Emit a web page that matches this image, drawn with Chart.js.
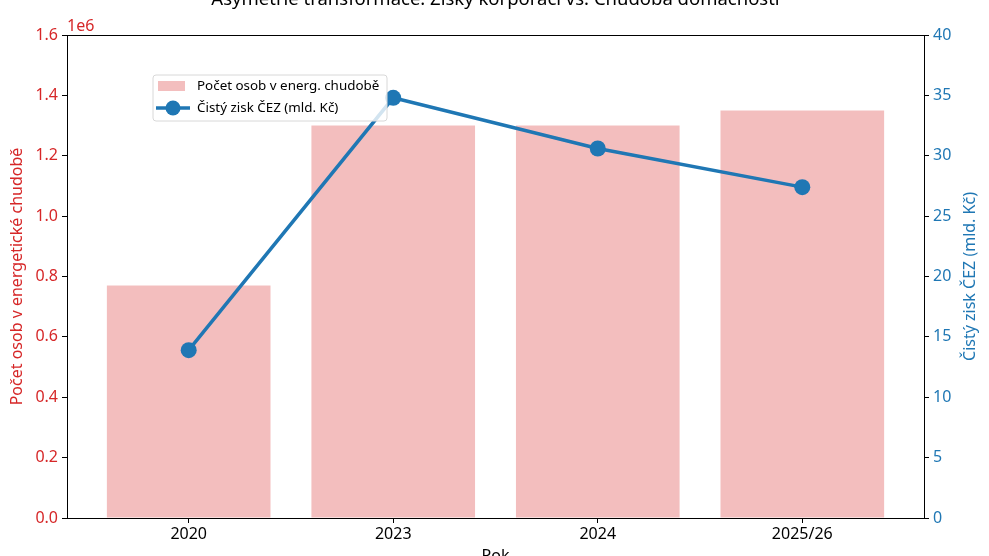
<!DOCTYPE html>
<html>
<head>
<meta charset="utf-8">
<script src="https://cdn.jsdelivr.net/npm/chart.js@4"></script>
<style>
    html, body { margin: 0; padding: 0; background: #fff; overflow: hidden; }
    #wrap { position: absolute; left: 0; top: -14px; width: 989px; height: 590px; }
</style>
</head>
<body>
<div id="wrap"><canvas id="chart"></canvas></div>
<script>
// Data
const years = ['2020', '2023', '2024', '2025/26'];
const povertyPeople = [770000, 1300000, 1300000, 1350000];
const cezProfit = [13.9, 34.8, 30.6, 27.4];
const leftTicks = [0, 0.2, 0.4, 0.6, 0.8, 1.0, 1.2, 1.4, 1.6];
const rightTicks = [0, 5, 10, 15, 20, 25, 30, 35, 40];

const FONT = '"Noto Sans", "DejaVu Sans", sans-serif';
const RED = '#d62728';
const BLUE = '#1f77b4';

// Frame, title, offset label, right axis title and legend drawn over the chart
const decorPlugin = {
    id: 'decor',
    afterDraw(chart) {
        const ctx = chart.ctx;
        const a = chart.chartArea;
        ctx.save();
        ctx.strokeStyle = '#000';
        ctx.lineWidth = 1;
        ctx.strokeRect(a.left + 0.5, a.top + 0.5, a.right - a.left, a.bottom - a.top);

        ctx.fillStyle = '#000';
        ctx.font = '18.5px ' + FONT;
        ctx.textAlign = 'center';
        ctx.textBaseline = 'middle';
        ctx.fillText('Asymetrie transformace: Zisky korporací vs. Chudoba domácností', (a.left + a.right) / 2, a.top - 35);

        ctx.fillStyle = RED;
        ctx.font = '16px ' + FONT;
        ctx.textAlign = 'left';
        ctx.textBaseline = 'bottom';
        ctx.fillText('1e6', a.left, a.top - 1);

        // right axis title, reading bottom to top
        ctx.save();
        ctx.translate(chart.width - 19, (a.top + a.bottom) / 2);
        ctx.rotate(-Math.PI / 2);
        ctx.fillStyle = BLUE;
        ctx.font = '16px ' + FONT;
        ctx.textAlign = 'center';
        ctx.textBaseline = 'middle';
        ctx.fillText('Čistý zisk ČEZ (mld. Kč)', 0, 0);
        ctx.restore();

        // legend
        const lx = a.left + 86, ly = a.top + 40, lw = 234, lh = 46;
        ctx.beginPath();
        ctx.roundRect(lx, ly, lw, lh, 3);
        ctx.fillStyle = 'rgba(255,255,255,0.8)';
        ctx.fill();
        ctx.strokeStyle = '#d8d8d8';
        ctx.lineWidth = 1;
        ctx.stroke();

        const ds = chart.data.datasets;
        ctx.fillStyle = ds[0].backgroundColor;
        ctx.fillRect(lx + 5, ly + 6, 27, 10);
        ctx.strokeStyle = ds[1].borderColor;
        ctx.lineWidth = 3.5;
        ctx.beginPath();
        ctx.moveTo(lx + 3, ly + 33);
        ctx.lineTo(lx + 37, ly + 33);
        ctx.stroke();
        ctx.fillStyle = ds[1].borderColor;
        ctx.beginPath();
        ctx.arc(lx + 20, ly + 33, 7.5, 0, Math.PI * 2);
        ctx.fill();

        ctx.fillStyle = '#000';
        ctx.font = '13.4px ' + FONT;
        ctx.textAlign = 'left';
        ctx.textBaseline = 'middle';
        ctx.fillText(ds[0].label, lx + 44, ly + 11);
        ctx.fillText(ds[1].label, lx + 44, ly + 33);
        ctx.restore();
    }
};

const ctx = document.getElementById('chart').getContext('2d');
new Chart(ctx, {
    data: {
        datasets: [{
            type: 'bar',
            label: 'Počet osob v energ. chudobě',
            data: povertyPeople.map((v, i) => ({ x: i, y: v })),
            backgroundColor: 'rgba(214, 39, 40, 0.3)',
            barPercentage: 0.8,
            categoryPercentage: 1.0,
            yAxisID: 'y',
            order: 2
        }, {
            type: 'line',
            label: 'Čistý zisk ČEZ (mld. Kč)',
            data: cezProfit.map((v, i) => ({ x: i, y: v })),
            borderColor: BLUE,
            backgroundColor: BLUE,
            borderWidth: 3.5,
            pointRadius: 8,
            pointHoverRadius: 8,
            pointBorderWidth: 0,
            tension: 0,
            yAxisID: 'y1',
            order: 1
        }]
    },
    options: {
        responsive: true,
        maintainAspectRatio: false,
        animation: false,
        layout: { padding: { top: 49, left: 0, right: 0, bottom: 0 } },
        plugins: {
            legend: { display: false },
            title: { display: false },
            tooltip: { enabled: false }
        },
        scales: {
            x: {
                type: 'linear',
                offset: false,
                min: -0.595,
                max: 3.595,
                afterBuildTicks: (scale) => {
                    scale.ticks = years.map((_, i) => ({ value: i }));
                },
                afterFit: (scale) => { scale.height = 58; },
                grid: { drawOnChartArea: false, offset: false, tickLength: 5, color: '#000' },
                border: { color: '#000' },
                ticks: {
                    color: '#000',
                    font: { family: FONT, size: 16 },
                    padding: 2,
                    maxRotation: 0,
                    autoSkip: false,
                    callback: (v) => years[v]
                },
                title: {
                    display: true,
                    text: 'Rok',
                    color: '#000',
                    font: { family: FONT, size: 16 },
                    padding: { top: 0, bottom: 10 }
                }
            },
            y: {
                position: 'left',
                min: 0,
                max: 1600000,
                afterBuildTicks: (scale) => {
                    scale.ticks = leftTicks.map(v => ({ value: v * 1e6 }));
                },
                afterFit: (scale) => { scale.width = 67; },
                grid: { drawOnChartArea: false, tickLength: 5, color: '#000' },
                border: { color: '#000' },
                ticks: {
                    color: RED,
                    font: { family: FONT, size: 16 },
                    padding: 4,
                    callback: (v) => (v / 1e6).toFixed(1)
                },
                title: {
                    display: true,
                    text: 'Počet osob v energetické chudobě',
                    color: RED,
                    font: { family: FONT, size: 16 },
                    padding: { top: 8, bottom: 0 }
                }
            },
            y1: {
                position: 'right',
                min: 0,
                max: 40,
                afterBuildTicks: (scale) => {
                    scale.ticks = rightTicks.map(v => ({ value: v }));
                },
                afterFit: (scale) => { scale.width = 65; },
                grid: { drawOnChartArea: false, tickLength: 5, color: '#000' },
                border: { color: '#000' },
                ticks: {
                    color: BLUE,
                    font: { family: FONT, size: 16 },
                    padding: 4
                },
                title: { display: false }
            }
        }
    },
    plugins: [decorPlugin]
});
</script>
</body>
</html>
